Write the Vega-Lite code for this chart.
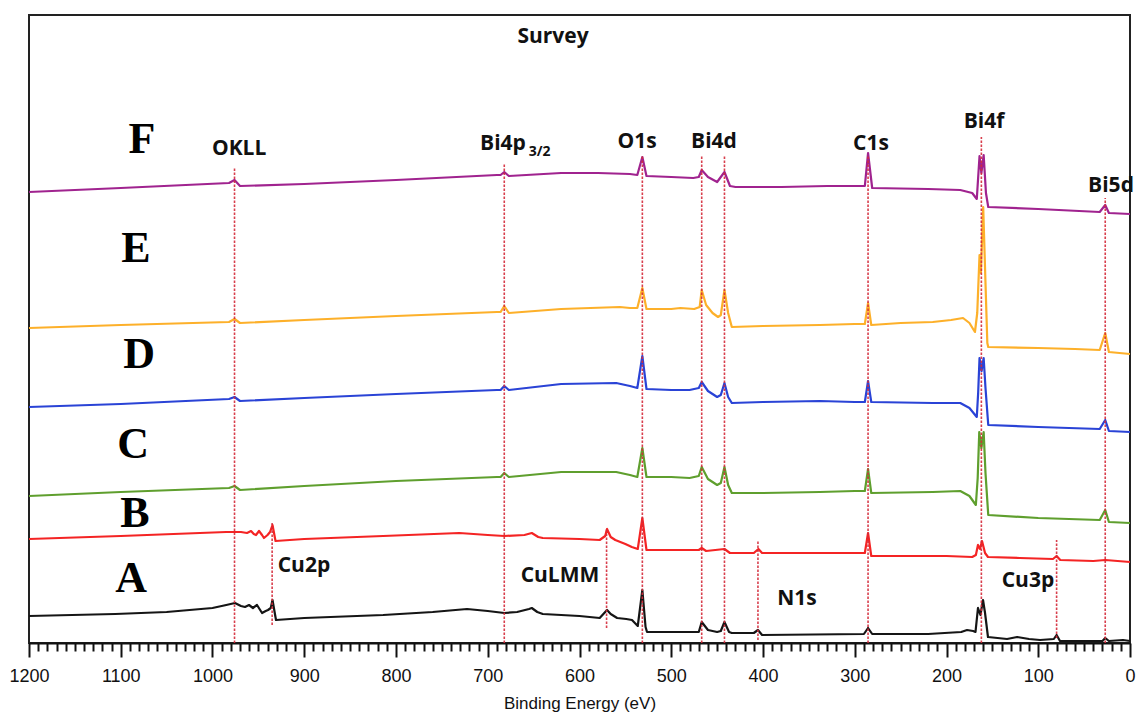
{
  "$schema": "https://vega.github.io/schema/vega-lite/v6.json",
  "width": 1101,
  "height": 628,
  "autosize": "none",
  "padding": {"left": 29, "top": 15, "right": 10, "bottom": 74},
  "background": "white",
  "config": {
    "font": "Liberation Sans",
    "view": {"stroke": "#222", "strokeWidth": 2}
  },
  "datasets": {
    "spectra": [
      {"s":"F","e":1200,"h":451},{"s":"F","e":1100,"h":455},{"s":"F","e":982,"h":460},{"s":"F","e":976,"h":463},{"s":"F","e":970,"h":457},
      {"s":"F","e":900,"h":459},{"s":"F","e":800,"h":463},{"s":"F","e":690,"h":468},{"s":"F","e":686,"h":468},{"s":"F","e":682,"h":471},
      {"s":"F","e":677,"h":467},{"s":"F","e":620,"h":470},{"s":"F","e":580,"h":470},{"s":"F","e":545,"h":469},{"s":"F","e":537,"h":468},
      {"s":"F","e":531.5,"h":486},{"s":"F","e":527,"h":467},{"s":"F","e":500,"h":466},{"s":"F","e":476,"h":465},{"s":"F","e":470,"h":466},
      {"s":"F","e":466.8,"h":473},{"s":"F","e":460,"h":466},{"s":"F","e":450,"h":461},{"s":"F","e":442,"h":471},{"s":"F","e":436,"h":457},
      {"s":"F","e":430,"h":456},{"s":"F","e":380,"h":456},{"s":"F","e":330,"h":457},{"s":"F","e":300,"h":457},{"s":"F","e":289,"h":457},
      {"s":"F","e":285.5,"h":490},{"s":"F","e":281,"h":455},{"s":"F","e":220,"h":454},{"s":"F","e":185,"h":453},{"s":"F","e":172,"h":450},
      {"s":"F","e":167,"h":444},{"s":"F","e":164,"h":487},{"s":"F","e":162,"h":470},{"s":"F","e":159.5,"h":488},{"s":"F","e":157,"h":450},
      {"s":"F","e":154.5,"h":436},{"s":"F","e":100,"h":434},{"s":"F","e":33,"h":431},{"s":"F","e":27,"h":438},{"s":"F","e":23,"h":430},
      {"s":"F","e":0,"h":429},

      {"s":"E","e":1200,"h":315},{"s":"E","e":1100,"h":318},{"s":"E","e":982,"h":321},{"s":"E","e":976,"h":324},{"s":"E","e":970,"h":320},
      {"s":"E","e":900,"h":323},{"s":"E","e":800,"h":327},{"s":"E","e":690,"h":331},{"s":"E","e":686,"h":331},{"s":"E","e":682,"h":337},
      {"s":"E","e":677,"h":330},{"s":"E","e":620,"h":334},{"s":"E","e":556,"h":336},{"s":"E","e":545,"h":335},{"s":"E","e":537,"h":335},
      {"s":"E","e":531.5,"h":355},{"s":"E","e":527,"h":334},{"s":"E","e":500,"h":334},{"s":"E","e":490,"h":335},{"s":"E","e":475,"h":334},
      {"s":"E","e":469,"h":336},{"s":"E","e":466.8,"h":353},{"s":"E","e":462,"h":338},{"s":"E","e":455,"h":330},{"s":"E","e":449,"h":326},
      {"s":"E","e":446,"h":328},{"s":"E","e":442,"h":353},{"s":"E","e":438,"h":330},{"s":"E","e":434,"h":316},{"s":"E","e":400,"h":317},
      {"s":"E","e":338,"h":318},{"s":"E","e":300,"h":319},{"s":"E","e":289,"h":319},{"s":"E","e":285.5,"h":340},{"s":"E","e":282,"h":318},
      {"s":"E","e":250,"h":320},{"s":"E","e":215,"h":321},{"s":"E","e":195,"h":323},{"s":"E","e":182,"h":325},{"s":"E","e":175,"h":320},
      {"s":"E","e":169,"h":311},{"s":"E","e":166.5,"h":330},{"s":"E","e":164,"h":388},{"s":"E","e":162.5,"h":370},{"s":"E","e":160,"h":436},
      {"s":"E","e":157.5,"h":360},{"s":"E","e":155.5,"h":300},{"s":"E","e":154.5,"h":296},{"s":"E","e":100,"h":295},{"s":"E","e":60,"h":294},
      {"s":"E","e":33,"h":293},{"s":"E","e":27,"h":310},{"s":"E","e":23,"h":291},{"s":"E","e":0,"h":289},

      {"s":"D","e":1200,"h":236},{"s":"D","e":1100,"h":239},{"s":"D","e":982,"h":244},{"s":"D","e":976,"h":246},{"s":"D","e":970,"h":242},
      {"s":"D","e":900,"h":245},{"s":"D","e":800,"h":249},{"s":"D","e":690,"h":253},{"s":"D","e":686,"h":253},{"s":"D","e":682,"h":257},
      {"s":"D","e":677,"h":253},{"s":"D","e":620,"h":259},{"s":"D","e":560,"h":260},{"s":"D","e":545,"h":257},{"s":"D","e":537,"h":255},
      {"s":"D","e":531.5,"h":287},{"s":"D","e":527,"h":254},{"s":"D","e":500,"h":253},{"s":"D","e":480,"h":253},{"s":"D","e":470,"h":255},
      {"s":"D","e":466.8,"h":261},{"s":"D","e":460,"h":252},{"s":"D","e":450,"h":246},{"s":"D","e":446,"h":248},{"s":"D","e":442,"h":260},
      {"s":"D","e":438,"h":246},{"s":"D","e":434,"h":240},{"s":"D","e":400,"h":241},{"s":"D","e":338,"h":242},{"s":"D","e":300,"h":241},
      {"s":"D","e":289,"h":241},{"s":"D","e":285.5,"h":262},{"s":"D","e":282,"h":241},{"s":"D","e":215,"h":240},{"s":"D","e":185,"h":240},
      {"s":"D","e":175,"h":235},{"s":"D","e":167,"h":226},{"s":"D","e":165.5,"h":250},{"s":"D","e":164,"h":285},{"s":"D","e":161.8,"h":272},
      {"s":"D","e":159.5,"h":285},{"s":"D","e":157.5,"h":255},{"s":"D","e":154.5,"h":218},{"s":"D","e":100,"h":216},{"s":"D","e":33,"h":214},
      {"s":"D","e":27,"h":223},{"s":"D","e":23,"h":212},{"s":"D","e":0,"h":211},

      {"s":"C","e":1200,"h":147},{"s":"C","e":1100,"h":151},{"s":"C","e":982,"h":155},{"s":"C","e":976,"h":157},{"s":"C","e":970,"h":153},
      {"s":"C","e":900,"h":157},{"s":"C","e":800,"h":162},{"s":"C","e":690,"h":166},{"s":"C","e":686,"h":166},{"s":"C","e":682,"h":170},
      {"s":"C","e":677,"h":166},{"s":"C","e":620,"h":171},{"s":"C","e":560,"h":171},{"s":"C","e":545,"h":168},{"s":"C","e":537,"h":166},
      {"s":"C","e":531.5,"h":195},{"s":"C","e":527,"h":166},{"s":"C","e":500,"h":166},{"s":"C","e":480,"h":165},{"s":"C","e":470,"h":167},
      {"s":"C","e":466.8,"h":176},{"s":"C","e":460,"h":164},{"s":"C","e":450,"h":158},{"s":"C","e":446,"h":160},{"s":"C","e":442,"h":176},
      {"s":"C","e":438,"h":158},{"s":"C","e":434,"h":150},{"s":"C","e":400,"h":150},{"s":"C","e":338,"h":151},{"s":"C","e":300,"h":152},
      {"s":"C","e":289,"h":152},{"s":"C","e":285.5,"h":174},{"s":"C","e":282,"h":150},{"s":"C","e":215,"h":151},{"s":"C","e":185,"h":152},
      {"s":"C","e":175,"h":147},{"s":"C","e":168,"h":138},{"s":"C","e":166,"h":165},{"s":"C","e":164.3,"h":211},{"s":"C","e":162,"h":195},
      {"s":"C","e":159.5,"h":211},{"s":"C","e":157.5,"h":170},{"s":"C","e":154.5,"h":128},{"s":"C","e":100,"h":125},{"s":"C","e":33,"h":123},
      {"s":"C","e":27,"h":133},{"s":"C","e":23,"h":121},{"s":"C","e":0,"h":120},

      {"s":"B","e":1200,"h":104},{"s":"B","e":1100,"h":107},{"s":"B","e":985,"h":111},{"s":"B","e":975.5,"h":111},{"s":"B","e":969,"h":111},
      {"s":"B","e":962.4,"h":110},{"s":"B","e":958,"h":112},{"s":"B","e":955,"h":109},{"s":"B","e":952.6,"h":108},{"s":"B","e":949.3,"h":112},
      {"s":"B","e":946,"h":108},{"s":"B","e":943.9,"h":105},{"s":"B","e":940,"h":108},{"s":"B","e":937.3,"h":111},{"s":"B","e":934.6,"h":118},
      {"s":"B","e":931.3,"h":102},{"s":"B","e":900,"h":104},{"s":"B","e":814,"h":107},{"s":"B","e":731,"h":110},{"s":"B","e":700,"h":108},
      {"s":"B","e":682,"h":107},{"s":"B","e":660,"h":108},{"s":"B","e":652,"h":110},{"s":"B","e":645,"h":106},{"s":"B","e":640,"h":105},
      {"s":"B","e":600,"h":104},{"s":"B","e":578,"h":103},{"s":"B","e":572,"h":107},{"s":"B","e":570,"h":114},{"s":"B","e":566,"h":106},
      {"s":"B","e":561,"h":103},{"s":"B","e":550,"h":99},{"s":"B","e":543,"h":96},{"s":"B","e":536.5,"h":94},{"s":"B","e":531.5,"h":125},
      {"s":"B","e":527,"h":93},{"s":"B","e":500,"h":93},{"s":"B","e":470,"h":93},{"s":"B","e":466.8,"h":95},{"s":"B","e":462,"h":92},
      {"s":"B","e":442,"h":94},{"s":"B","e":436,"h":90},{"s":"B","e":410,"h":90},{"s":"B","e":405,"h":94},{"s":"B","e":401,"h":90},
      {"s":"B","e":320,"h":90},{"s":"B","e":289,"h":90},{"s":"B","e":285.5,"h":110},{"s":"B","e":282,"h":87},{"s":"B","e":200,"h":87},
      {"s":"B","e":172,"h":86},{"s":"B","e":168,"h":88},{"s":"B","e":165.7,"h":98},{"s":"B","e":163.5,"h":94},{"s":"B","e":161.3,"h":102},
      {"s":"B","e":158,"h":90},{"s":"B","e":154.8,"h":86},{"s":"B","e":120,"h":85},{"s":"B","e":84,"h":84},{"s":"B","e":80,"h":87},
      {"s":"B","e":76,"h":83},{"s":"B","e":40,"h":82},{"s":"B","e":27,"h":83},{"s":"B","e":0,"h":81},

      {"s":"A","e":1200,"h":27},{"s":"A","e":1106,"h":29},{"s":"A","e":1050,"h":31},{"s":"A","e":1000,"h":35},{"s":"A","e":985,"h":38},
      {"s":"A","e":975.5,"h":40},{"s":"A","e":969,"h":37},{"s":"A","e":964.6,"h":36},{"s":"A","e":960.2,"h":38},{"s":"A","e":955.9,"h":35},
      {"s":"A","e":951.5,"h":38},{"s":"A","e":946,"h":30},{"s":"A","e":942,"h":32},{"s":"A","e":939.5,"h":33},{"s":"A","e":936.5,"h":35},
      {"s":"A","e":934.6,"h":43},{"s":"A","e":930.8,"h":23},{"s":"A","e":900,"h":25},{"s":"A","e":814,"h":28},{"s":"A","e":760,"h":31},
      {"s":"A","e":722.6,"h":34},{"s":"A","e":700,"h":32},{"s":"A","e":682,"h":30},{"s":"A","e":668,"h":31},{"s":"A","e":655,"h":34},
      {"s":"A","e":652,"h":35},{"s":"A","e":646,"h":31},{"s":"A","e":640,"h":29},{"s":"A","e":600,"h":27},{"s":"A","e":578,"h":25},
      {"s":"A","e":573,"h":30},{"s":"A","e":570,"h":33},{"s":"A","e":566,"h":29},{"s":"A","e":559,"h":25},{"s":"A","e":549,"h":24},
      {"s":"A","e":542.8,"h":23},{"s":"A","e":536.5,"h":17},{"s":"A","e":531.5,"h":53},{"s":"A","e":528,"h":16},{"s":"A","e":526.4,"h":11},
      {"s":"A","e":470,"h":11},{"s":"A","e":466.8,"h":21},{"s":"A","e":460,"h":13},{"s":"A","e":450,"h":11},{"s":"A","e":446,"h":12},
      {"s":"A","e":442,"h":21},{"s":"A","e":437,"h":11},{"s":"A","e":434,"h":10},{"s":"A","e":410,"h":10},{"s":"A","e":405.5,"h":13},
      {"s":"A","e":401,"h":8},{"s":"A","e":290,"h":9},{"s":"A","e":285.5,"h":15},{"s":"A","e":281,"h":9},{"s":"A","e":220,"h":9},
      {"s":"A","e":184,"h":11},{"s":"A","e":177.6,"h":13},{"s":"A","e":171,"h":12},{"s":"A","e":168.4,"h":11},{"s":"A","e":165.7,"h":35},
      {"s":"A","e":163,"h":28},{"s":"A","e":160.2,"h":43},{"s":"A","e":158,"h":30},{"s":"A","e":154.8,"h":6},{"s":"A","e":134,"h":4},
      {"s":"A","e":123,"h":6},{"s":"A","e":110,"h":4},{"s":"A","e":98,"h":3},{"s":"A","e":83,"h":4},{"s":"A","e":80,"h":8},
      {"s":"A","e":76.3,"h":2},{"s":"A","e":30,"h":2},{"s":"A","e":27,"h":5},{"s":"A","e":23,"h":2},{"s":"A","e":7.6,"h":3},
      {"s":"A","e":0,"h":2}
    ],
    "markers": [
      {"peak":"OKLL","e":976,"h":0,"h2":476},
      {"peak":"Bi4p","e":682,"h":0,"h2":480},
      {"peak":"O1s","e":531.5,"h":0,"h2":488},
      {"peak":"Bi4d5/2","e":466.8,"h":0,"h2":488},
      {"peak":"Bi4d3/2","e":442,"h":0,"h2":488},
      {"peak":"C1s","e":285.5,"h":0,"h2":488},
      {"peak":"Bi4f","e":162,"h":0,"h2":506},
      {"peak":"Bi5d","e":27,"h":0,"h2":445},
      {"peak":"Cu2p","e":935,"h":18,"h2":120},
      {"peak":"CuLMM","e":570.5,"h":15,"h2":114},
      {"peak":"N1s","e":405.5,"h":3,"h2":103},
      {"peak":"Cu3p","e":80,"h":5,"h2":103}
    ],
    "labels": [
      {"kind":"peak","text":"Survey","e":628.9,"h":600},
      {"kind":"peak","text":"OKLL","e":971,"h":488},
      {"kind":"peak","text":"Bi4p","e":683.4,"h":493},
      {"kind":"sub","text":"3/2","e":643.5,"h":487},
      {"kind":"peak","text":"O1s","e":537.3,"h":495},
      {"kind":"peak","text":"Bi4d","e":453.4,"h":495},
      {"kind":"peak","text":"C1s","e":282.3,"h":493},
      {"kind":"peak","text":"Bi4f","e":159.1,"h":515},
      {"kind":"peak","text":"Bi5d","e":20.7,"h":451},
      {"kind":"peak","text":"Cu2p","e":900.3,"h":71},
      {"kind":"peak","text":"CuLMM","e":621.3,"h":61},
      {"kind":"peak","text":"N1s","e":363,"h":38},
      {"kind":"peak","text":"Cu3p","e":111.2,"h":56},
      {"kind":"sample","text":"F","e":1076.8,"h":490},
      {"kind":"sample","text":"E","e":1083.4,"h":381},
      {"kind":"sample","text":"D","e":1080,"h":275},
      {"kind":"sample","text":"C","e":1086.6,"h":185},
      {"kind":"sample","text":"B","e":1084.5,"h":116},
      {"kind":"sample","text":"A","e":1088.8,"h":51}
    ]
  },
  "encoding": {
    "x": {
      "field": "e",
      "type": "quantitative",
      "scale": {"domain": [0, 1200], "reverse": true, "nice": false, "zero": false},
      "axis": {
        "values": [0,10,20,30,40,50,60,70,80,90,100,110,120,130,140,150,160,170,180,190,200,210,220,230,240,250,260,270,280,290,300,310,320,330,340,350,360,370,380,390,400,410,420,430,440,450,460,470,480,490,500,510,520,530,540,550,560,570,580,590,600,610,620,630,640,650,660,670,680,690,700,710,720,730,740,750,760,770,780,790,800,810,820,830,840,850,860,870,880,890,900,910,920,930,940,950,960,970,980,990,1000,1010,1020,1030,1040,1050,1060,1070,1080,1090,1100,1110,1120,1130,1140,1150,1160,1170,1180,1190,1200],
        "format": "d",
        "labelExpr": "datum.value % 100 === 0 ? datum.label : ''",
        "tickSize": {"condition": {"test": "datum.value % 100 === 0", "value": 14}, "value": 8},
        "tickWidth": 2,
        "tickColor": "#111",
        "domainColor": "#111",
        "domainWidth": 2,
        "grid": false,
        "labelFont": "Liberation Sans",
        "labelFontSize": 18,
        "labelColor": "#111",
        "labelPadding": 10,
        "labelOverlap": false,
        "labelFlush": false,
        "title": "Binding Energy (eV)",
        "titleFont": "Liberation Sans",
        "titleFontSize": 17,
        "titleFontWeight": "normal",
        "titleColor": "#111",
        "titlePadding": 10
      }
    },
    "y": {
      "field": "h",
      "type": "quantitative",
      "scale": {"domain": [0, 628], "nice": false, "zero": false},
      "axis": null
    }
  },
  "layer": [
    {
      "data": {"name": "spectra"},
      "mark": {"type": "line", "strokeWidth": 2.2, "strokeJoin": "round"},
      "encoding": {
        "color": {
          "field": "s",
          "type": "nominal",
          "scale": {
            "domain": ["A", "B", "C", "D", "E", "F"],
            "range": ["#151515", "#f42424", "#5f9f2e", "#2a43d6", "#fdb02a", "#a0238f"]
          },
          "legend": null
        },
        "order": {"field": "e", "type": "quantitative"}
      }
    },
    {
      "data": {"name": "markers"},
      "mark": {"type": "rule", "color": "#d42a3a", "strokeWidth": 1.6, "strokeDash": [2.5, 1.5], "opacity": 0.9},
      "encoding": {
        "y2": {"field": "h2"}
      }
    },
    {
      "data": {"name": "labels"},
      "transform": [{"filter": "datum.kind === 'peak'"}],
      "mark": {"type": "text", "font": "Open Sans", "fontWeight": "bold", "fontSize": 21, "color": "#111", "align": "center", "baseline": "alphabetic"},
      "encoding": {
        "text": {"field": "text"}
      }
    },
    {
      "data": {"name": "labels"},
      "transform": [{"filter": "datum.kind === 'sub'"}],
      "mark": {"type": "text", "font": "Open Sans", "fontWeight": "bold", "fontSize": 14, "color": "#111", "align": "center", "baseline": "alphabetic"},
      "encoding": {
        "text": {"field": "text"}
      }
    },
    {
      "data": {"name": "labels"},
      "transform": [{"filter": "datum.kind === 'sample'"}],
      "mark": {"type": "text", "font": "Liberation Serif", "fontWeight": "bold", "fontSize": 44, "color": "#000", "align": "center", "baseline": "alphabetic"},
      "encoding": {
        "text": {"field": "text"}
      }
    }
  ]
}
